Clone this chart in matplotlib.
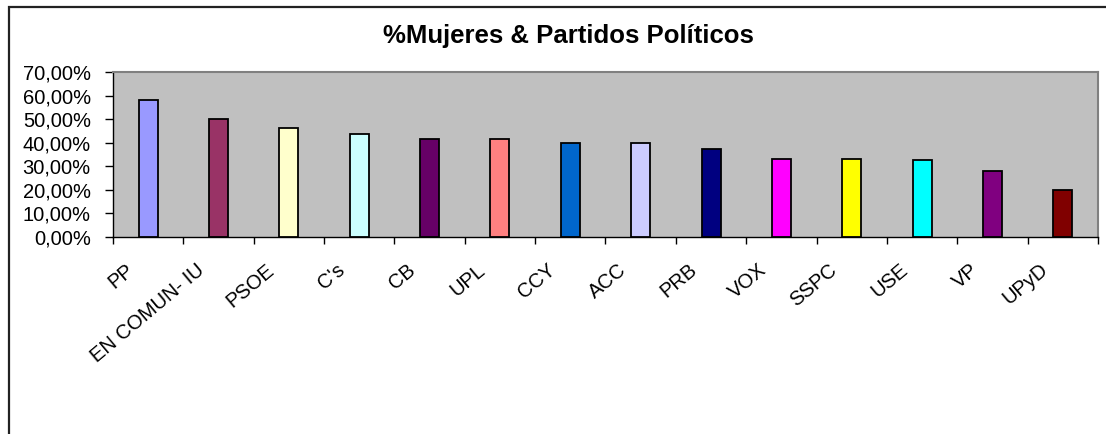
import numpy as np
import matplotlib
matplotlib.use('Agg')
import matplotlib.pyplot as plt
from matplotlib.ticker import FuncFormatter
from matplotlib.transforms import ScaledTranslation
from matplotlib.patches import Rectangle

plt.rcParams['font.family'] = ['Liberation Sans', 'DejaVu Sans']

# data (% women per party)
partidos = ['PP', 'EN COMUN- IU', 'PSOE', "C's", 'CB', 'UPL', 'CCY', 'ACC',
            'PRB', 'VOX', 'SSPC', 'USE', 'VP', 'UPyD']
pct_mujeres = [58.3, 50.0, 46.4, 43.5, 41.7, 41.7, 40.0, 40.0,
               37.5, 33.3, 33.3, 32.5, 27.8, 20.0]
colores = ['#9999FF', '#993366', '#FFFFCC', '#CCFFFF', '#660066', '#FF8080',
           '#0066CC', '#CCCCFF', '#000080', '#FF00FF', '#FFFF00', '#00FFFF',
           '#800080', '#800000']
y_ticks = [0, 10, 20, 30, 40, 50, 60, 70]

W, H = 1106, 434
fig = plt.figure(figsize=(W / 100, H / 100), dpi=100)
ax = fig.add_axes([113 / W, 1 - 237 / H, 985 / W, 165 / H])
ax.set_facecolor('#C0C0C0')

x = np.arange(len(partidos))
ax.bar(x, pct_mujeres, width=0.27, color=colores, edgecolor='black', linewidth=1.3, zorder=3)

ax.set_xlim(-0.5, len(partidos) - 0.5)
ax.set_ylim(0, 70)
ax.set_yticks(y_ticks)
ax.yaxis.set_major_formatter(FuncFormatter(lambda v, p: f'{v:.2f}%'.replace('.', ',')))
ax.tick_params(axis='y', direction='out', length=6, width=1, pad=10, labelsize=14.5)

# labels at category centres, tick marks at category boundaries
ax.set_xticks(x)
ax.set_xticklabels(partidos, rotation=40, ha='right', va='center', rotation_mode='anchor')
ax.set_xticks(np.arange(-0.5, len(partidos)), minor=True)
ax.tick_params(axis='x', which='major', length=0, pad=22, labelsize=14.5)
ax.tick_params(axis='x', which='minor', direction='out', length=5, width=1)
shift = ScaledTranslation(-17 / 100, 0, fig.dpi_scale_trans)
for lab in ax.get_xticklabels():
    lab.set_transform(lab.get_transform() + shift)

for s in ['left', 'bottom']:
    ax.spines[s].set_color('black')
    ax.spines[s].set_linewidth(1)
for s in ['top', 'right']:
    ax.spines[s].set_color('#808080')
    ax.spines[s].set_linewidth(1.5)

fig.text(568 / W, 1 - 36 / H, '%Mujeres & Partidos Políticos', ha='center', va='center',
         fontsize=18.5, fontweight='bold')

# outer chart frame (runs off the right and bottom edges)
fig.patches.append(Rectangle((9 / W, -0.1), 1.2, 1.1 - 7.5 / H, transform=fig.transFigure,
                             fill=False, edgecolor='#222222', linewidth=1.6))

fig.savefig('out.png', dpi=100)
